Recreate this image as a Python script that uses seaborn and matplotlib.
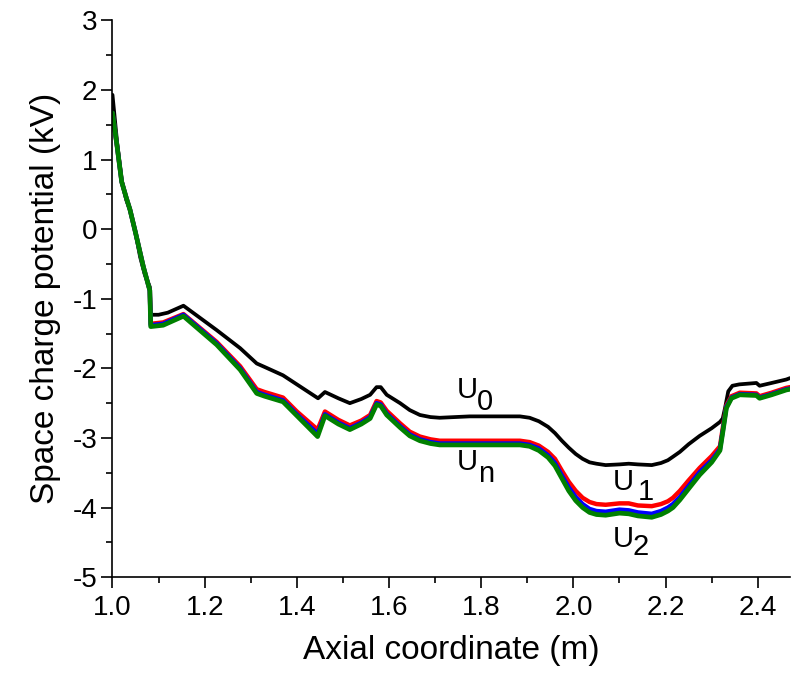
import numpy as np
import seaborn as sns
import matplotlib.pyplot as plt
from matplotlib.ticker import MultipleLocator

# U0 (чёрная кривая)
x_u0 = [1.000, 1.010, 1.020, 1.030, 1.038, 1.050, 1.060, 1.070, 1.081, 1.083,
        1.100, 1.120, 1.154, 1.226, 1.277, 1.313, 1.330, 1.370, 1.446, 1.461,
        1.490, 1.515, 1.540, 1.559, 1.573, 1.582, 1.595, 1.624, 1.645, 1.667,
        1.690, 1.710, 1.775, 1.840, 1.884, 1.905, 1.925, 1.945, 1.960, 1.975,
        1.990, 2.005, 2.020, 2.035, 2.050, 2.070, 2.100, 2.120, 2.140, 2.170,
        2.190, 2.205, 2.216, 2.231, 2.250, 2.274, 2.300, 2.318, 2.324, 2.329,
        2.336, 2.345, 2.360, 2.397, 2.404, 2.430, 2.462, 2.470]
u0 = [1.93, 1.25, 0.70, 0.42, 0.28, -0.05, -0.40, -0.65, -0.83, -1.23,
      -1.23, -1.20, -1.10, -1.45, -1.71, -1.93, -1.98, -2.10, -2.43, -2.34,
      -2.43, -2.50, -2.44, -2.38, -2.27, -2.27, -2.38, -2.50, -2.60, -2.67,
      -2.70, -2.71, -2.69, -2.69, -2.69, -2.71, -2.76, -2.84, -2.93, -3.04,
      -3.14, -3.23, -3.30, -3.35, -3.37, -3.39, -3.38, -3.37, -3.38, -3.39,
      -3.36, -3.32, -3.27, -3.20, -3.09, -2.97, -2.86, -2.77, -2.72, -2.57,
      -2.33, -2.25, -2.23, -2.21, -2.25, -2.21, -2.16, -2.14]

# U1, U2, Un (красная, синяя, зелёная)
x_n = [1.000, 1.010, 1.020, 1.030, 1.038, 1.050, 1.067, 1.081, 1.083, 1.110,
       1.154, 1.226, 1.277, 1.313, 1.330, 1.370, 1.400, 1.445, 1.461, 1.490,
       1.515, 1.540, 1.559, 1.573, 1.582, 1.595, 1.624, 1.645, 1.667, 1.690,
       1.710, 1.775, 1.884, 1.905, 1.925, 1.945, 1.960, 1.975, 1.990, 2.005,
       2.020, 2.035, 2.050, 2.070, 2.100, 2.120, 2.140, 2.170, 2.190, 2.205,
       2.216, 2.231, 2.250, 2.274, 2.300, 2.318, 2.325, 2.332, 2.343, 2.361,
       2.397, 2.404, 2.430, 2.462, 2.470]
u1 = [1.67, 1.19, 0.68, 0.45, 0.28, -0.05, -0.54, -0.88, -1.36, -1.34,
      -1.22, -1.62, -1.97, -2.30, -2.34, -2.42, -2.62, -2.88, -2.62, -2.74,
      -2.82, -2.75, -2.67, -2.47, -2.49, -2.61, -2.79, -2.91, -2.98, -3.02,
      -3.04, -3.04, -3.04, -3.06, -3.11, -3.20, -3.30, -3.47, -3.63, -3.76,
      -3.86, -3.92, -3.95, -3.96, -3.94, -3.94, -3.97, -3.98, -3.95, -3.91,
      -3.86, -3.76, -3.61, -3.43, -3.26, -3.12, -2.82, -2.53, -2.40, -2.35,
      -2.36, -2.40, -2.35, -2.28, -2.27]
u2 = [1.67, 1.19, 0.68, 0.45, 0.28, -0.05, -0.54, -0.88, -1.38, -1.36,
      -1.23, -1.64, -2.00, -2.34, -2.38, -2.46, -2.66, -2.94, -2.66, -2.78,
      -2.86, -2.78, -2.70, -2.50, -2.52, -2.65, -2.83, -2.95, -3.02, -3.06,
      -3.08, -3.08, -3.08, -3.10, -3.15, -3.25, -3.36, -3.54, -3.71, -3.85,
      -3.95, -4.02, -4.05, -4.06, -4.03, -4.04, -4.07, -4.09, -4.05, -4.00,
      -3.95, -3.85, -3.69, -3.49, -3.32, -3.16, -2.86, -2.55, -2.42, -2.37,
      -2.38, -2.42, -2.37, -2.30, -2.29]
un = [1.67, 1.19, 0.68, 0.45, 0.28, -0.05, -0.54, -0.88, -1.40, -1.38,
      -1.25, -1.66, -2.02, -2.36, -2.40, -2.48, -2.68, -2.98, -2.68, -2.80,
      -2.88, -2.80, -2.72, -2.52, -2.54, -2.67, -2.85, -2.97, -3.04, -3.08,
      -3.10, -3.10, -3.10, -3.12, -3.18, -3.28, -3.40, -3.58, -3.76, -3.90,
      -4.00, -4.07, -4.10, -4.11, -4.08, -4.09, -4.12, -4.14, -4.10, -4.05,
      -4.00, -3.89, -3.73, -3.53, -3.35, -3.18, -2.88, -2.57, -2.43, -2.38,
      -2.39, -2.43, -2.38, -2.31, -2.30]

sns.set_style('ticks')
plt.rcParams['font.family'] = ['Liberation Sans', 'DejaVu Sans']
plt.rcParams['axes.unicode_minus'] = False
plt.rcParams['text.color'] = 'black'
plt.rcParams['axes.labelcolor'] = 'black'
plt.rcParams['xtick.color'] = 'black'
plt.rcParams['ytick.color'] = 'black'

fig = plt.figure(figsize=(7.96, 6.79), dpi=100)
ax = fig.add_axes([0.1413, 0.150, 0.8512, 0.820])

kw = dict(estimator=None, sort=False, ax=ax, solid_joinstyle='round', solid_capstyle='round')
sns.lineplot(x=x_u0, y=u0, color='black', lw=2.7, **kw)
sns.lineplot(x=x_n, y=u1, color='red', lw=3.2, **kw)
sns.lineplot(x=x_n, y=u2, color='blue', lw=3.2, **kw)
sns.lineplot(x=x_n, y=un, color='green', lw=3.4, **kw)

# подписи кривых: буква U и индекс того же размера
labels = [('U', '0', 1.747, -2.42, 1.791, -2.60),
          ('U', 'n', 1.747, -3.46, 1.794, -3.63),
          ('U', '1', 2.086, -3.75, 2.140, -3.89),
          ('U', '2', 2.086, -4.57, 2.129, -4.68)]
for main, sub, x0, y0, x1, y1 in labels:
    ax.text(x0, y0, main, fontsize=21, va='baseline', ha='left')
    ax.text(x1, y1, sub, fontsize=21, va='baseline', ha='left')

ax.set_xlim(1.0, 2.47)
ax.set_ylim(-5, 3)
ax.xaxis.set_major_locator(MultipleLocator(0.2))
ax.xaxis.set_minor_locator(MultipleLocator(0.1))
ax.yaxis.set_major_locator(MultipleLocator(1))
ax.yaxis.set_minor_locator(MultipleLocator(0.5))
ax.xaxis.set_major_formatter(plt.FormatStrFormatter('%.1f'))

ax.tick_params(which='major', direction='out', length=8, width=1.2, labelsize=20, pad=3)
ax.tick_params(axis='x', which='major', pad=5)
ax.tick_params(which='minor', direction='out', length=4.5, width=1.2)
sns.despine(ax=ax)
for s in ['left', 'bottom']:
    ax.spines[s].set_linewidth(1.2)
    ax.spines[s].set_color('black')

ax.set_xlabel('Axial coordinate (m)', fontsize=24, labelpad=10)
ax.set_ylabel('Space charge potential (kV)', fontsize=24, labelpad=8)

plt.savefig('out.png', dpi=100)
